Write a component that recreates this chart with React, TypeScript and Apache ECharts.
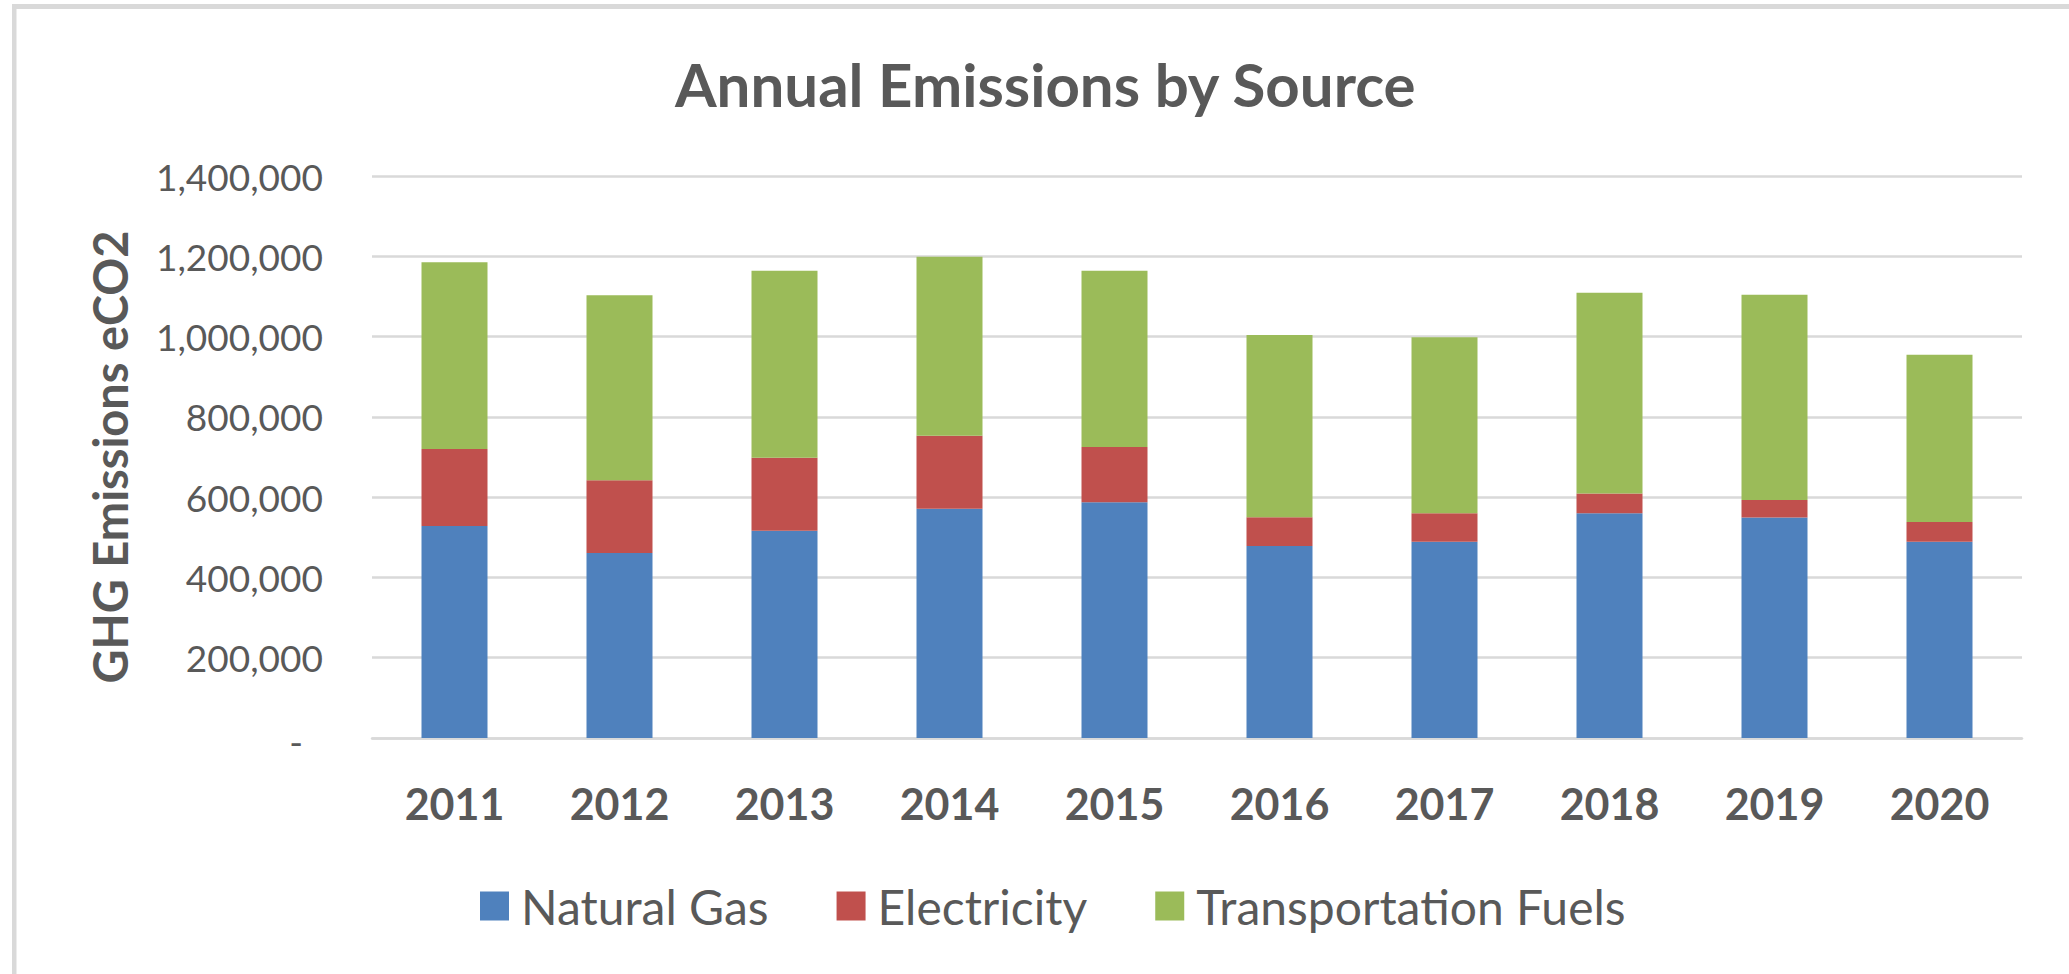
import React, { useEffect, useRef } from "react";
import * as echarts from "echarts";

const years = ["2011", "2012", "2013", "2014", "2015", "2016", "2017", "2018", "2019", "2020"];
const naturalGas = [528000, 461000, 516000, 571000, 587000, 478000, 489000, 560000, 549000, 489000];
const electricity = [192000, 181000, 182000, 182000, 138000, 72000, 71000, 49000, 44000, 49000];
const transportationFuels = [465000, 461000, 466000, 446000, 439000, 454000, 438000, 500000, 511000, 417000];
const seriesNames = ["Natural Gas", "Electricity", "Transportation Fuels"];
const seriesColors = ["#4F81BD", "#C0504D", "#9BBB59"];

const FONT = "Lato, 'Open Sans', sans-serif";
const GRAY = "#595959";

export default function App() {
  const ref = useRef<HTMLDivElement>(null);
  useEffect(() => {
    if (!ref.current) return;
    const chart = echarts.init(ref.current, undefined, { renderer: "svg" });
    const data = [naturalGas, electricity, transportationFuels];
    chart.setOption({
      animation: false,
      backgroundColor: "#ffffff",
      title: {
        text: "Annual Emissions by Source",
        left: 675,
        top: 54,
        padding: 0,
        textStyle: { fontFamily: FONT, fontSize: 60, fontWeight: "bold", color: GRAY },
      },
      legend: {
        data: seriesNames,
        left: 475,
        top: 877,
        itemWidth: 29,
        itemHeight: 29,
        itemGap: 68,
        icon: "rect",
        textStyle: { fontFamily: FONT, fontSize: 48, color: GRAY, padding: [0, 0, 0, 7] },
      },
      grid: { left: 372, right: 47, top: 176, bottom: 236, containLabel: false },
      xAxis: {
        type: "category",
        data: years,
        axisTick: { show: false },
        axisLine: { show: true, lineStyle: { color: "#d9d9d9", width: 2.5 } },
        axisLabel: { margin: 44, fontFamily: FONT, fontSize: 43, fontWeight: "bold", color: GRAY },
      },
      yAxis: {
        type: "value",
        min: 0,
        max: 1400000,
        interval: 200000,
        name: "GHG Emissions eCO2",
        nameLocation: "middle",
        nameGap: 239,
        nameTextStyle: { fontFamily: FONT, fontSize: 47, fontWeight: "bold", color: GRAY },
        axisLine: { show: false },
        axisTick: { show: false },
        splitLine: { lineStyle: { color: "#d9d9d9", width: 2.5 } },
        axisLabel: {
          margin: 49,
          fontFamily: FONT,
          fontSize: 37,
          color: GRAY,
          formatter: (v: number) => (v === 0 ? "{d|-}" : v.toLocaleString("en-US")),
          rich: { d: { fontFamily: FONT, fontSize: 37, color: GRAY, padding: [6, 20, 0, 0] } },
        },
      },
      graphic: [
        { type: "rect", shape: { x: 12, y: 4, width: 2057, height: 5 }, style: { fill: "#d9d9d9" }, silent: true },
        { type: "rect", shape: { x: 12, y: 4, width: 4.5, height: 970 }, style: { fill: "#d9d9d9" }, silent: true },
      ],
      series: seriesNames.map((name, i) => ({
        name,
        type: "bar",
        stack: "total",
        barWidth: "40%",
        itemStyle: { color: seriesColors[i] },
        data: data[i],
      })),
    });
    return () => chart.dispose();
  }, []);
  return <div ref={ref} style={{ position: "absolute", left: 0, top: 0, width: 2069, height: 974 }} />;
}
